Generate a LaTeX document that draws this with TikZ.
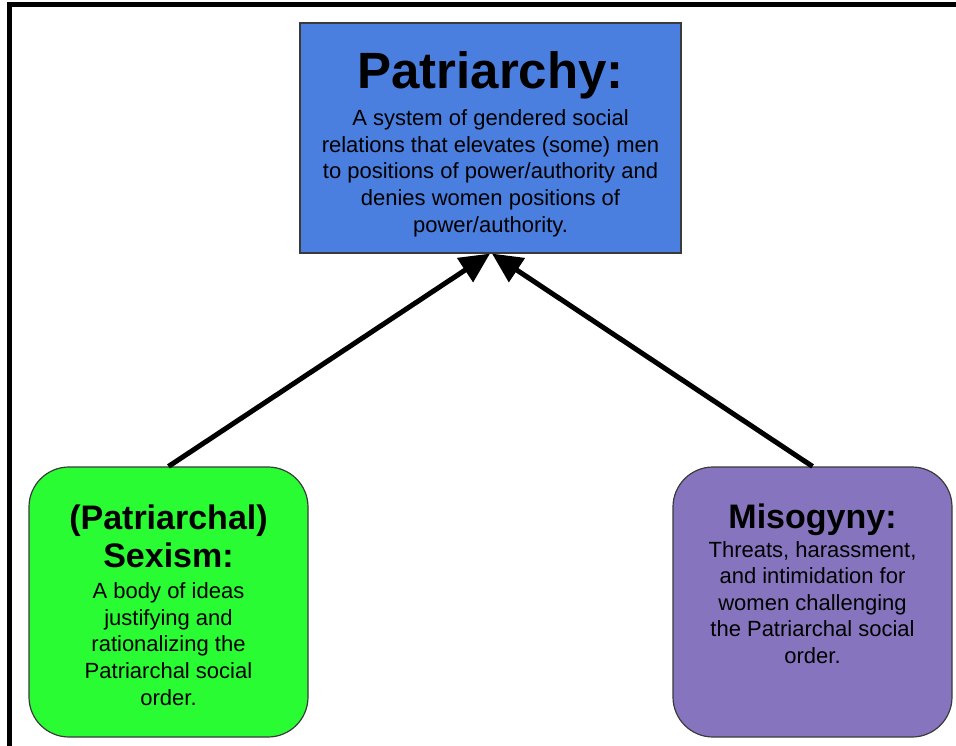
\documentclass[tikz,border=0pt]{standalone}
\usepackage{fontspec}
\setmainfont{Liberation Sans}
\usetikzlibrary{arrows.meta}
\definecolor{pblue}{HTML}{4A7FE0}
\definecolor{pgreen}{HTML}{2AFC33}
\definecolor{ppurple}{HTML}{8675BE}
\definecolor{pedge}{HTML}{3A3A3A}
\tikzset{
  box/.style={draw=pedge, line width=1.2pt, inner sep=0pt},
  txt/.style={align=center, inner sep=0pt, anchor=north, text=black},
  titlefont/.style={font=\fontsize{34}{38}\selectfont\bfseries},
  bodyfont/.style={font=\fontsize{22}{26.6}\selectfont},
  conn/.style={line width=5pt, -{Triangle[length=30pt,width=28pt]}}
}
\begin{document}
\begin{tikzpicture}[x=1pt,y=-1pt]
\useasboundingbox (0,0) rectangle (956,746);
\clip (0,0) rectangle (956,746);
\fill[white] (0,0) rectangle (956,746);
\draw[line width=5pt] (9.5,4.5) rectangle (1000,800);
% boxes
\node[box, fill=pblue, minimum width=381pt, minimum height=230pt] (patr) at (490.5,138) {};
\node[box, fill=pgreen, rounded corners=40pt, minimum width=279pt, minimum height=270pt] (sex) at (168.5,602) {};
\node[box, fill=ppurple, rounded corners=40pt, minimum width=279pt, minimum height=270pt] (miso) at (812.5,602) {};
% texts
\node[txt, font=\fontsize{51}{56}\selectfont\bfseries] (patrt) at (490.5,51) {Patriarchy:};
\node[txt, bodyfont] (patrb) at (490.5,109.5) {A system of gendered social\\relations that elevates (some) men\\to positions of power/authority and\\denies women positions of\\power/authority.};
\node[txt, titlefont] (sext) at (168.5,505) {(Patriarchal)\\Sexism:};
\node[txt, bodyfont] (sexb) at (168.5,582.5) {A body of ideas\\justifying and\\rationalizing the\\Patriarchal social\\order.};
\node[txt, titlefont] (misot) at (812.5,504) {Misogyny:};
\node[txt, bodyfont] (misob) at (812.5,541) {Threats, harassment,\\and intimidation for\\women challenging\\the Patriarchal social\\order.};
% connectors
\draw[conn] (sex.north) -- ([xshift=-0.5pt]patr.south);
\draw[conn] (miso.north) -- ([xshift=1.5pt]patr.south);
\end{tikzpicture}
\end{document}
